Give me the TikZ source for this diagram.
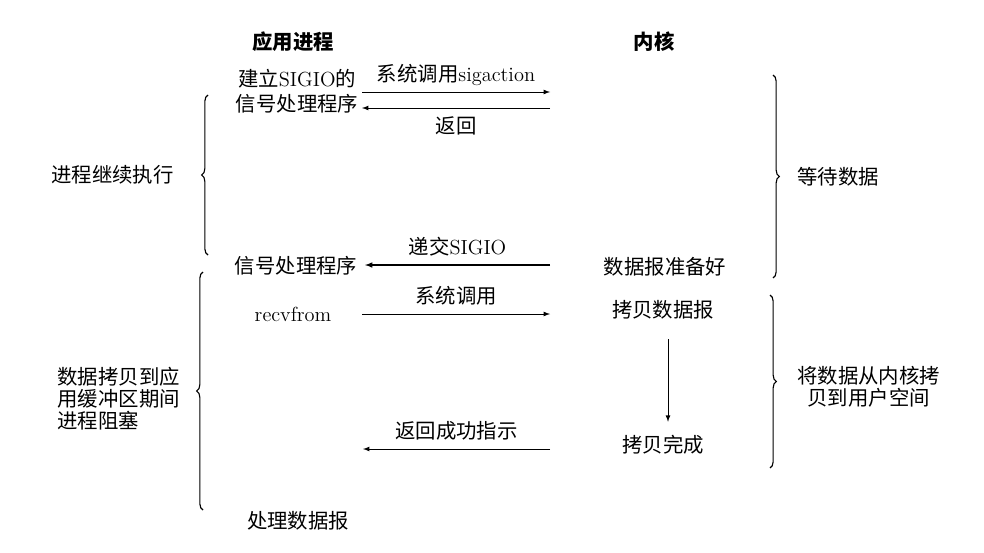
\documentclass[tikz,border=0pt]{standalone}
\usepackage{fontspec}
\newfontfamily\cjk{Noto Sans CJK SC}
\usetikzlibrary{arrows.meta,calc,positioning,decorations.pathreplacing}
\newcommand{\zh}[1]{{\cjk #1}}

\begin{document}
\begin{tikzpicture}[x=0.025cm,y=-0.025cm,font=\fontsize{14.5}{17.7}\selectfont,
    lbl/.style={inner sep=1pt},
    call/.style={-latex,semithick},
    brc/.style={decorate,decoration={brace,amplitude=4.5pt},thick}]
        \useasboundingbox (0,0) rectangle (984,552);
        %Headings
        \node[lbl] (app) at (293,42) {\cjk\bfseries 应用进程};
        \node[lbl] (kern) at (654,42) {\cjk\bfseries 内核};
        %Process side
        \node[lbl,align=center] (setup) at (297,91) {\zh{建立}SIGIO\zh{的}\\\zh{信号处理程序}};
        \node[lbl] (handler) at (296,266) {\zh{信号处理程序}};
        \node[lbl] (recv) at (293,314) {recvfrom};
        \node[lbl] (proc) at (298,521) {\zh{处理数据报}};
        %Kernel side
        \node[lbl] (ready) at (665,267) {\zh{数据报准备好}};
        \node[lbl] (copy) at (663,310) {\zh{拷贝数据报}};
        \node[lbl] (done) at (663,445) {\zh{拷贝完成}};
        %Arrow ends
        \coordinate (a1) at (362,92);
        \coordinate (k1) at (550,92);
        \coordinate (a2) at (362,108);
        \coordinate (k2) at (550,108);
        \coordinate (a3) at (365,265);
        \coordinate (k3) at (550,265);
        \coordinate (a4) at (362,314);
        \coordinate (k4) at (550,314);
        \coordinate (a5) at (363,449);
        \coordinate (k5) at (550,449);
        %Calls
        \draw[call] (a1) -- node[lbl,above=3pt] {\zh{系统调用}sigaction} (k1);
        \draw[call] (k2) -- node[lbl,below=5pt] {\zh{返回}} (a2);
        \draw[call,thick] (k3) -- node[lbl,above=5pt] {\zh{递交}SIGIO} (a3);
        \draw[call] (a4) -- node[lbl,above=5pt] {\zh{系统调用}} (k4);
        \draw[call] (k5) -- node[lbl,above=5pt] {\zh{返回成功指示}} (a5);
        \draw[call] ($(copy.south)+(5,18)$) coordinate (c1) -- ($(done.north)+(5,-12)$) coordinate (c2);
        %Braces
        \coordinate (lb1) at (208,255);
        \coordinate (lt1) at (208,95);
        \coordinate (lb2) at (203,510);
        \coordinate (lt2) at (203,272);
        \coordinate (rt1) at (773,75);
        \coordinate (rb1) at (773,278);
        \coordinate (rt2) at (770,295);
        \coordinate (rb2) at (770,468);
        \draw[brc] (lb1) -- node[lbl,left=23pt] {\zh{进程继续执行}} (lt1);
        \draw[brc] (lb2) -- node[lbl,left=15pt,yshift=-5.5pt,align=left,font=\fontsize{14.5}{15.8}\selectfont] {\zh{数据拷贝到应}\\\zh{用缓冲区期间}\\\zh{进程阻塞}} (lt2);
        \draw[brc] (rt1) -- node[lbl,right=16pt] {\zh{等待数据}} (rb1);
        \draw[brc] (rt2) -- node[lbl,right=18pt,yshift=-3.5pt,align=center,font=\fontsize{14.5}{15.8}\selectfont] {\zh{将数据从内核拷}\\\zh{贝到用户空间}} (rb2);
      \end{tikzpicture}
\end{document}
